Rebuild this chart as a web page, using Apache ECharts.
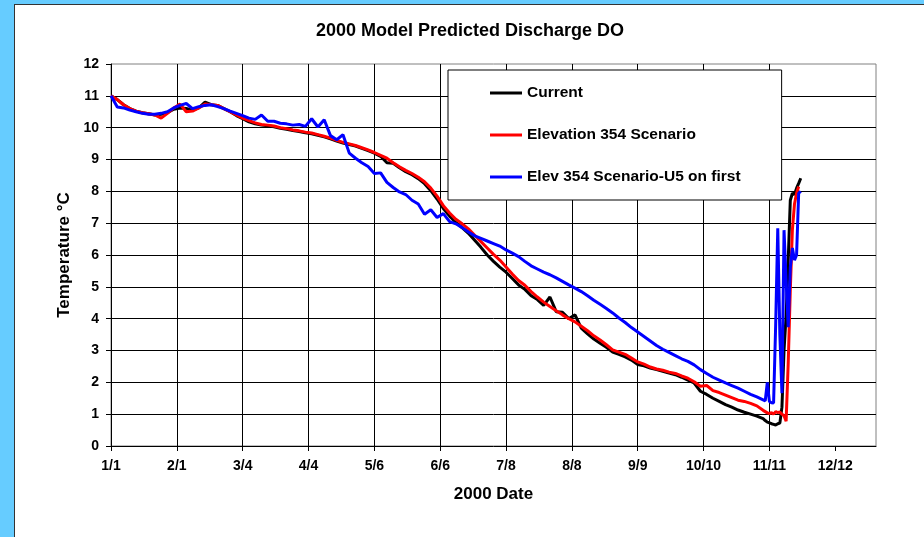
<!DOCTYPE html>
<html>
<head>
<meta charset="utf-8">
<script src="https://cdn.jsdelivr.net/npm/echarts@6/dist/echarts.min.js"></script>
<style>
html,body{margin:0;padding:0;width:924px;height:537px;overflow:hidden;background:#66CCFF;}
#frame{position:absolute;left:14px;top:4px;width:940px;height:560px;background:#fff;border-left:1px solid #333;border-top:1px solid #333;}
#chart{position:absolute;left:0;top:0;width:924px;height:537px;}
</style>
</head>
<body>
<div id="frame"></div>
<div id="chart"></div>
<script>
// x tick labels (every 31.5 days from Jan 1, 2000)
const tickLabels = ['1/1','2/1','3/4','4/4','5/6','6/6','7/8','8/8','9/9','10/10','11/11','12/12'];
const tickStep = 31.5;

// day of year (0 = Jan 1)
const days = [0,3,6,9,12,15,18,21,24,27,30,33,36,39,42,45,48,51,54,57,60,63,66,69,72,75,78,81,84,87,90,93,96,99,102,105,108,111,114,117,120,123,126,129,132,135,138,141,144,147,150,153,156,159,162,165,168,171,174,177,180,183,186,189,192,195,198,201,204,207,210,213,216,219,222,225,228,231,234,237,240,243,246,249,252,255,258,261,264,267,270,273,276,279,282,285,288,291,294,297,300,303,306,309,312,
313,314,315,316,317,318,319,320,321,322,323,324,325,326,327,328,329,330];

const current = [11.0,10.88,10.72,10.6,10.52,10.47,10.44,10.4,10.42,10.47,10.58,10.62,10.6,10.55,10.62,10.8,10.72,10.7,10.6,10.5,10.38,10.28,10.18,10.12,10.08,10.06,10.03,9.98,9.95,9.91,9.88,9.84,9.81,9.76,9.71,9.65,9.58,9.52,9.47,9.42,9.35,9.28,9.2,9.1,8.9,8.88,8.74,8.62,8.52,8.4,8.24,8.02,7.76,7.46,7.22,7.02,6.86,6.68,6.46,6.24,6.0,5.8,5.62,5.46,5.26,5.06,4.92,4.72,4.6,4.42,4.68,4.22,4.2,4.0,4.12,3.7,3.52,3.36,3.23,3.1,2.95,2.88,2.8,2.7,2.56,2.52,2.45,2.4,2.35,2.29,2.24,2.16,2.07,1.98,1.72,1.62,1.5,1.4,1.3,1.22,1.13,1.06,1.0,0.94,0.86,
0.8,0.75,0.73,0.7,0.68,0.66,0.7,0.72,1.22,3.0,4.1,5.84,7.72,7.94,7.9,8.1,8.25,8.41];

const elev354 = [11.0,10.88,10.72,10.6,10.52,10.47,10.44,10.4,10.3,10.45,10.62,10.74,10.5,10.52,10.62,10.74,10.72,10.7,10.6,10.5,10.4,10.3,10.22,10.15,10.1,10.08,10.05,10.0,9.97,9.93,9.9,9.86,9.83,9.78,9.73,9.67,9.6,9.54,9.49,9.44,9.37,9.3,9.22,9.13,9.04,8.9,8.77,8.66,8.56,8.44,8.3,8.1,7.85,7.55,7.32,7.12,6.98,6.82,6.62,6.42,6.22,6.02,5.84,5.62,5.4,5.2,5.05,4.85,4.68,4.52,4.38,4.25,4.12,4.0,3.9,3.76,3.62,3.46,3.33,3.18,3.02,2.95,2.88,2.76,2.64,2.57,2.48,2.42,2.38,2.32,2.28,2.2,2.13,2.02,1.88,1.9,1.74,1.68,1.6,1.52,1.44,1.4,1.34,1.26,1.12,
1.08,1.04,1.02,1.05,1.0,1.08,1.05,1.07,1.0,0.95,0.78,2.6,4.9,6.8,7.6,7.94,8.15,null];

const elev354U5 = [11.0,10.65,10.62,10.55,10.5,10.45,10.42,10.42,10.45,10.5,10.62,10.7,10.76,10.6,10.66,10.7,10.72,10.66,10.6,10.52,10.45,10.38,10.3,10.26,10.4,10.2,10.2,10.14,10.12,10.08,10.1,10.04,10.28,10.02,10.25,9.75,9.62,9.78,9.2,9.04,8.9,8.78,8.56,8.58,8.28,8.12,7.98,7.9,7.72,7.6,7.28,7.42,7.18,7.3,7.05,6.98,6.86,6.72,6.6,6.52,6.44,6.36,6.28,6.16,6.06,5.95,5.8,5.66,5.56,5.46,5.38,5.28,5.17,5.06,4.96,4.85,4.72,4.58,4.45,4.32,4.18,4.02,3.88,3.72,3.58,3.44,3.3,3.16,3.04,2.94,2.84,2.74,2.66,2.55,2.4,2.28,2.16,2.07,1.98,1.9,1.82,1.72,1.62,1.54,1.45,
1.42,2.0,1.4,1.36,1.35,3.8,6.84,3.5,1.66,6.78,5.2,3.73,5.6,6.22,5.84,6.0,7.94,8.0];

const seriesNames = ['Current','Elevation 354 Scenario','Elev 354 Scenario-U5 on first'];
const seriesColors = ['#000000','#FF0000','#0000FF'];
const seriesValues = [current, elev354, elev354U5];

const FONT = 'Arial, "Liberation Sans", sans-serif';
const tickVals = tickLabels.map((_, i) => i * tickStep);

const chart = echarts.init(document.getElementById('chart'), null, {renderer: 'canvas'});
chart.setOption({
  animation: false,
  backgroundColor: 'transparent',
  title: {
    text: '2000 Model Predicted Discharge DO',
    left: 316, top: 22,
    padding: 0,
    textStyle: {fontFamily: FONT, fontWeight: 'bold', fontSize: 18, color: '#000'}
  },
  grid: {left: 111, top: 64, right: 48, bottom: 91, show: true, borderColor: '#808080', borderWidth: 1, backgroundColor: '#fff'},
  legend: {
    orient: 'vertical',
    left: 448, top: 70,
    padding: [15, 41, 15, 42],
    backgroundColor: '#fff',
    borderColor: '#000', borderWidth: 1,
    itemWidth: 32, itemHeight: 3, itemGap: 26,
    icon: 'rect',
    textStyle: {fontFamily: FONT, fontWeight: 'bold', fontSize: 15.5, color: '#000', lineHeight: 16},
    data: seriesNames
  },
  xAxis: {
    type: 'value', min: 0, max: 366,
    name: '2000 Date', nameLocation: 'middle', nameGap: 40,
    nameTextStyle: {fontFamily: FONT, fontWeight: 'bold', fontSize: 17, color: '#000'},
    axisLine: {show: true, onZero: false, lineStyle: {color: '#000', width: 1}},
    axisTick: {show: true, length: 5, customValues: tickVals, lineStyle: {color: '#000'}},
    axisLabel: {
      customValues: tickVals, margin: 13,
      fontFamily: FONT, fontWeight: 'bold', fontSize: 14, color: '#000',
      formatter: v => { const i = Math.round(v / tickStep); return Math.abs(v - i * tickStep) < 1e-6 ? (tickLabels[i] || '') : ''; }
    },
    splitLine: {show: true, showMinLine: false, showMaxLine: false, lineStyle: {color: '#000', width: 1}}
  },
  yAxis: {
    type: 'value', min: 0, max: 12, interval: 1,
    name: 'Temperature °C', nameLocation: 'middle', nameGap: 36, nameRotate: 90,
    nameTextStyle: {fontFamily: FONT, fontWeight: 'bold', fontSize: 17, color: '#000'},
    axisLine: {show: true, lineStyle: {color: '#000', width: 1}},
    axisTick: {show: true, length: 5, lineStyle: {color: '#000'}},
    axisLabel: {margin: 12, fontFamily: FONT, fontWeight: 'bold', fontSize: 14, color: '#000'},
    splitLine: {show: true, showMinLine: false, showMaxLine: false, lineStyle: {color: '#000', width: 1}}
  },
  series: seriesNames.map((name, k) => ({
    name: name,
    type: 'line',
    showSymbol: false,
    symbol: 'none',
    color: seriesColors[k],
    lineStyle: {color: seriesColors[k], width: 3},
    data: days.map((d, i) => [d, seriesValues[k][i]])
  }))
});
</script>
</body>
</html>
